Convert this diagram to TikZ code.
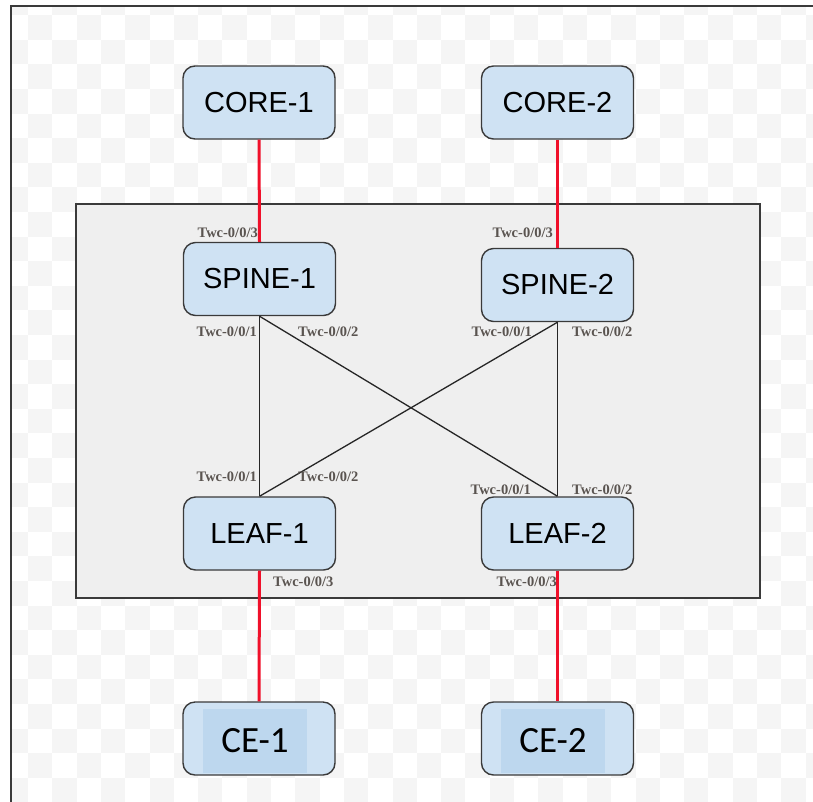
\documentclass[tikz,border=0pt]{standalone}
\usepackage{fontspec}
\setmainfont{Liberation Sans}
\newfontfamily\lblfont{Liberation Serif}
\newfontfamily\cefont{Carlito}
\definecolor{nodeblue}{HTML}{CFE2F3}
\definecolor{ceblue}{HTML}{BDD7EE}
\definecolor{checkgray}{HTML}{F5F5F5}
\definecolor{panelgray}{HTML}{EFEFEF}
\definecolor{edgegray}{HTML}{3A3A3A}
\definecolor{portgray}{HTML}{5A5450}
\definecolor{linkred}{HTML}{F0102A}
\tikzset{
  devbox/.style={draw=edgegray, line width=1.4pt, fill=nodeblue, rounded corners=12pt,
    minimum width=152pt, minimum height=73pt, inner sep=0pt,
    font=\fontsize{29}{33}\selectfont},
  ceinnerbox/.style={fill=ceblue, minimum width=104pt, minimum height=64pt, inner sep=0pt,
    font=\cefont\fontsize{37}{40}\selectfont},
  port/.style={font=\lblfont\bfseries\fontsize{14.5}{16}\selectfont, text=portgray, inner sep=0pt},
  redlink/.style={draw=linkred, line width=3pt},
  blacklink/.style={draw=black!85, line width=1.3pt}
}
\begin{document}
\begin{tikzpicture}[x=1pt,y=-1pt]
\useasboundingbox (0,0) rectangle (813,801);
% checkered background
\begin{scope}
\clip (11,6) rectangle (813,801);
\foreach \i in {0,...,34}{
  \foreach \j in {0,...,33}{
    \pgfmathtruncatemacro{\cpar}{mod(\i+\j,2)}
    \ifnum\cpar=0
      \fill[checkgray] ({3.7+24.3*\i},{-9.5+24.6*\j}) rectangle ++(24.3,24.6);
    \fi
  }
}
\end{scope}
% outer frame
\draw[edgegray, line width=1.5pt] (830,6) -- (11,6) -- (11,820);
% panel
\draw[draw=edgegray, line width=1.8pt, fill=panelgray] (76,204) rectangle (760,598);
% devices
\node[devbox] (core1) at (259,102.5) {CORE-1};
\node[devbox] (core2) at (557.5,102.5) {CORE-2};
\node[devbox] (spine1) at (259.5,279) {SPINE-1};
\node[devbox] (spine2) at (557.5,285) {SPINE-2};
\node[devbox] (leaf1) at (259.5,533.5) {LEAF-1};
\node[devbox] (leaf2) at (557.5,533.5) {LEAF-2};
\node[devbox] (ce1) at (259,738.5) {};
\node[ceinnerbox] (ce1t) at (255,741) {CE-1};
\node[devbox] (ce2) at (557.5,738.5) {};
\node[ceinnerbox] (ce2t) at (553,741) {CE-2};
% links
\draw[redlink] (core1.south) -- (spine1.north);
\draw[redlink] (core2.south) -- (spine2.north);
\draw[redlink] (leaf1.south) -- (ce1.north);
\draw[redlink] (leaf2.south) -- (ce2.north);
\draw[blacklink] (spine1.south) -- (leaf1.north);
\draw[blacklink] (spine1.south) -- (leaf2.north);
\draw[blacklink] (spine2.south) -- (leaf2.north);
\draw[blacklink] (spine2.south) -- (leaf1.north);
% port labels
\node[port, anchor=east] (ps1c) at (258,233) {Twc-0/0/3};
\node[port, anchor=east] (ps2c) at (553,233) {Twc-0/0/3};
\node[port, anchor=east] (ps1a) at (257,332) {Twc-0/0/1};
\node[port, anchor=west] (ps1b) at (298,332) {Twc-0/0/2};
\node[port, anchor=east] (ps2a) at (532,332) {Twc-0/0/1};
\node[port, anchor=west] (ps2b) at (572,332) {Twc-0/0/2};
\node[port, anchor=east] (pl1a) at (257,477) {Twc-0/0/1};
\node[port, anchor=west] (pl1b) at (298,477) {Twc-0/0/2};
\node[port, anchor=east] (pl2a) at (531,490) {Twc-0/0/1};
\node[port, anchor=west] (pl2b) at (572,490) {Twc-0/0/2};
\node[port, anchor=west] (pl1c) at (273,582) {Twc-0/0/3};
\node[port, anchor=east] (pl2c) at (557,582) {Twc-0/0/3};
\end{tikzpicture}
\end{document}
